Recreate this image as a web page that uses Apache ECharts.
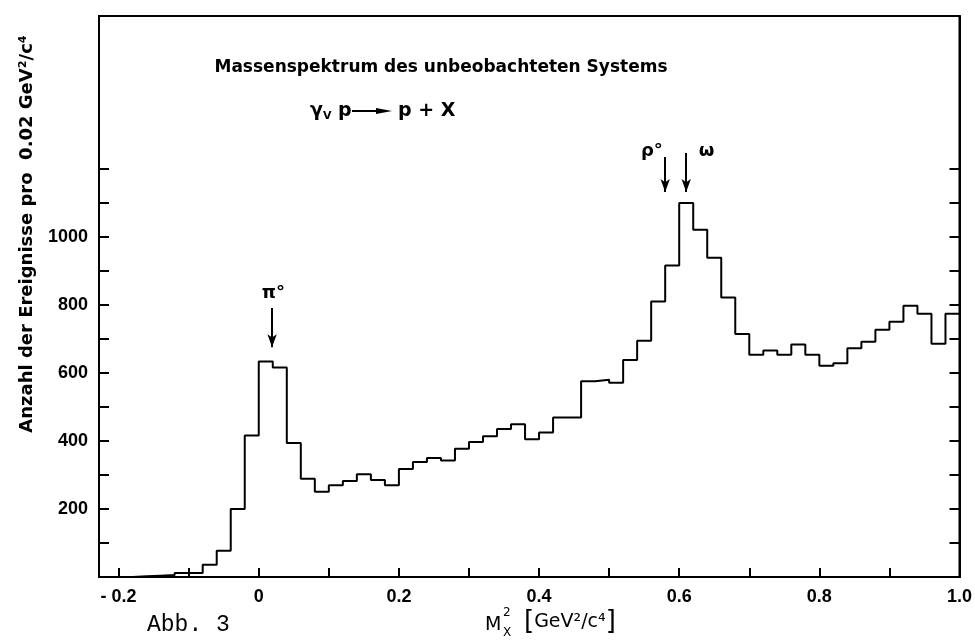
<!DOCTYPE html>
<html>
<head>
<meta charset="utf-8">
<script src="https://cdn.jsdelivr.net/npm/echarts@6/dist/echarts.min.js"></script>
<style>
  html, body { margin: 0; padding: 0; background: #fff; }
  #chart { width: 975px; height: 640px; }
</style>
</head>
<body>
<div id="chart"></div>
<script>
// Bin left edges (GeV^2/c^4), bin width 0.02
const binLeft = [-0.18, -0.16, -0.14, -0.12, -0.10, -0.08, -0.06, -0.04, -0.02,
  0.00, 0.02, 0.04, 0.06, 0.08, 0.10, 0.12, 0.14, 0.16, 0.18,
  0.20, 0.22, 0.24, 0.26, 0.28, 0.30, 0.32, 0.34, 0.36, 0.38,
  0.40, 0.42, 0.44, 0.46, 0.48, 0.50, 0.52, 0.54, 0.56, 0.58,
  0.60, 0.62, 0.64, 0.66, 0.68, 0.70, 0.72, 0.74, 0.76, 0.78,
  0.80, 0.82, 0.84, 0.86, 0.88, 0.90, 0.92, 0.94, 0.96, 0.98];
const binEnd = 1.00;
// Events per bin
const counts = [2, 4, 6, 12, 12, 36, 77, 200, 416,
  634, 616, 394, 289, 251, 270, 282, 302, 285, 270,
  318, 338, 350, 343, 377, 397, 414, 435, 449, 405,
  425, 469, 469, 576, 580, 571, 638, 695, 810, 916,
  1100, 1021, 939, 822, 715, 654, 666, 654, 684, 654,
  621, 629, 673, 692, 727, 751, 798, 774, 686, 774];

// Axis ticks / labels
const xTicks = [-0.2, -0.1, 0, 0.1, 0.2, 0.3, 0.4, 0.5, 0.6, 0.7, 0.8, 0.9, 1.0];
const xLabels = [-0.2, 0, 0.2, 0.4, 0.6, 0.8, 1.0];
const yTicks = [100, 200, 300, 400, 500, 600, 700, 800, 900, 1000, 1100, 1200];
const yLabels = [200, 400, 600, 800, 1000];

// Resonance annotations (arrow x, arrow top, arrow tip)
const annotName = ['π°', 'ρ°', 'ω'];
const annotX = [0.019, 0.580, 0.610];
const annotTop = [791, 1235, 1247];
const annotTip = [676, 1132, 1132];
const annotLabelX = [0.021, 0.561, 0.639];
const annotLabelY = [835, 1253, 1253];

const stepData = [[binLeft[0], 0]];
for (let i = 0; i < binLeft.length; i++) stepData.push([binLeft[i], counts[i]]);
stepData.push([binEnd, counts[counts.length - 1]]);

const arrowLines = annotX.map((x, i) => [{ coord: [x, annotTop[i]] }, { coord: [x, annotTip[i]] }]);
const arrowLabels = annotName.map((n, i) => ({ name: n, coord: [annotLabelX[i], annotLabelY[i]] }));

const chart = echarts.init(document.getElementById('chart'), null, { renderer: 'canvas' });
const black = '#000';
const tickFont = { color: black, fontFamily: 'Liberation Sans', fontWeight: 'bold', fontSize: 18 };

chart.setOption({
  animation: false,
  backgroundColor: '#fff',
  grid: { left: 99, right: 15, top: 16, bottom: 63, show: true, borderColor: black, borderWidth: 2, backgroundColor: 'transparent' },
  xAxis: {
    type: 'value', min: -0.228, max: 1.0,
    axisLine: { show: true, onZero: false, lineStyle: { color: black, width: 2 } },
    axisTick: { show: true, inside: true, length: 9, lineStyle: { color: black, width: 2 }, customValues: xTicks },
    axisLabel: {
      show: true, margin: 11, customValues: xLabels, ...tickFont,
      formatter: v => (Math.abs(v) < 1e-9 ? '0' : (v < 0 ? '- ' + Math.abs(v).toFixed(1) : v.toFixed(1)))
    },
    splitLine: { show: false }
  },
  yAxis: [{
    type: 'value', min: 0, max: 1650, position: 'left',
    axisLine: { show: true, onZero: false, lineStyle: { color: black, width: 2 } },
    axisTick: { show: true, inside: true, length: 10, lineStyle: { color: black, width: 2 }, customValues: yTicks },
    axisLabel: { show: true, margin: 11, customValues: yLabels, ...tickFont, formatter: v => String(v) },
    splitLine: { show: false }
  }, {
    type: 'value', min: 0, max: 1650, position: 'right',
    axisLine: { show: true, onZero: false, lineStyle: { color: black, width: 2 } },
    axisTick: { show: true, inside: true, length: 10, lineStyle: { color: black, width: 2 }, customValues: yTicks },
    axisLabel: { show: false },
    splitLine: { show: false }
  }],
  series: [{
    type: 'line', step: 'end', data: stepData, symbol: 'none',
    lineStyle: { color: black, width: 2 },
    markLine: {
      silent: true, symbol: ['none', 'arrow'], symbolSize: [7, 13],
      lineStyle: { color: black, width: 2, type: 'solid' },
      label: { show: false }, data: arrowLines
    },
    markPoint: {
      silent: true, symbol: 'circle', symbolSize: 0,
      label: { show: true, position: 'inside', formatter: '{b}', color: black, fontFamily: 'DejaVu Sans', fontWeight: 'bold', fontSize: 18 },
      data: arrowLabels
    }
  }],
  graphic: [
    { type: 'text', x: 441, y: 68, style: { text: 'Massenspektrum des unbeobachteten Systems', fill: black, font: 'bold 17px "DejaVu Sans"', align: 'center', verticalAlign: 'middle' } },
    { type: 'text', x: 310, y: 111, style: { text: '{g|γ}{s|V}{t| p}', fill: black, align: 'left', verticalAlign: 'middle',
        rich: { g: { font: 'bold 19px "DejaVu Sans"' }, s: { font: 'bold 11px "DejaVu Sans"', padding: [10, 0, 0, 0] }, t: { font: 'bold 19px "DejaVu Sans"' } } } },
    { type: 'line', shape: { x1: 352, y1: 111, x2: 378, y2: 111 }, style: { stroke: black, lineWidth: 2 } },
    { type: 'polygon', shape: { points: [[376, 108], [392, 111], [376, 114]] }, style: { fill: black } },
    { type: 'text', x: 398, y: 111, style: { text: 'p + X', fill: black, font: 'bold 19px "DejaVu Sans"', align: 'left', verticalAlign: 'middle' } },
    { type: 'text', x: 27, y: 234, rotation: Math.PI / 2, style: { text: 'Anzahl der Ereignisse pro  0.02 GeV²/c⁴', fill: black, font: 'bold 18px "DejaVu Sans"', align: 'center', verticalAlign: 'middle' } },
    { type: 'text', x: 485, y: 625, style: { text: 'M', fill: black, font: '19px "DejaVu Sans"', align: 'left', verticalAlign: 'middle' } },
    { type: 'text', x: 503, y: 613, style: { text: '2', fill: black, font: '12px "DejaVu Sans"', align: 'left', verticalAlign: 'middle' } },
    { type: 'text', x: 503, y: 633, style: { text: 'X', fill: black, font: '12px "DejaVu Sans"', align: 'left', verticalAlign: 'middle' } },
    { type: 'text', x: 524, y: 622, style: { text: '{b|[}{t|GeV²/c⁴}{b|]}', fill: black, align: 'left', verticalAlign: 'middle',
        rich: { b: { font: '26px "DejaVu Sans"' }, t: { font: '19px "DejaVu Sans"' } } } },
    { type: 'text', x: 147, y: 625, style: { text: 'Abb. 3', fill: black, font: '23px "Liberation Mono"', align: 'left', verticalAlign: 'middle' } }
  ]
});
</script>
</body>
</html>
